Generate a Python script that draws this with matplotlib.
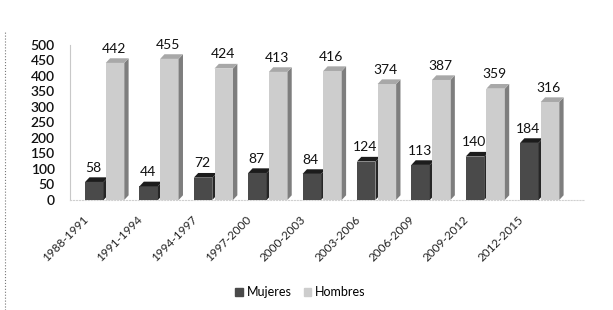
import matplotlib
matplotlib.use("Agg")
from matplotlib import pyplot as plt
from matplotlib.patches import Polygon
from matplotlib.lines import Line2D
import matplotlib.transforms as mtransforms
import numpy as np

periodos = ["1988-1991", "1991-1994", "1994-1997", "1997-2000", "2000-2003",
            "2003-2006", "2006-2009", "2009-2012", "2012-2015"]
mujeres = [58, 44, 72, 87, 84, 124, 113, 140, 184]
hombres = [442, 455, 424, 413, 416, 374, 387, 359, 316]
yticks = [0, 50, 100, 150, 200, 250, 300, 350, 400, 450, 500]

plt.rcParams['font.family'] = ['Lato', 'DejaVu Sans']

fig = plt.figure(figsize=(6.13, 3.10), dpi=100)
ax = fig.add_axes([0.114, 0.355, 0.84, 0.50])

x = np.arange(len(periodos))
w = 0.34
dx, dy = 0.08, 15  # profundidad falsa 3D

def barras3d(pos, vals, front, side, top):
    ax.bar(pos, vals, width=w, color=front, edgecolor='none', zorder=3)
    for p, v in zip(pos, vals):
        x0, x1 = p - w / 2, p + w / 2
        ax.add_patch(Polygon([(x1, 0), (x1 + dx, dy), (x1 + dx, v + dy), (x1, v)],
                             closed=True, color=side, lw=0, zorder=3))
        ax.add_patch(Polygon([(x0, v), (x0 + dx, v + dy), (x1 + dx, v + dy), (x1, v)],
                             closed=True, color=top, lw=0, zorder=3))
        ax.text(p - 0.02, v + dy + 12, str(v), ha='center', va='bottom',
                fontsize=10, color='#111111', zorder=4)

barras3d(x - 0.19, mujeres, '#4a4a4a', '#262626', '#1c1c1c')
barras3d(x + 0.19, hombres, '#cdcdcd', '#7e7e7e', '#a8a8a8')

ax.set_xlim(-0.64, 8.83)
ax.set_ylim(0, 500)
ax.set_yticks(yticks)
ax.tick_params(axis='y', length=0, pad=11, labelsize=10, labelcolor='#111111')
for lbl in ax.get_yticklabels():
    lbl.set_fontweight('semibold')
ax.set_xticks(x)
ax.set_xticklabels(periodos, rotation=45, ha='right', rotation_mode='anchor',
                   fontsize=8.5, color='#222222')
ax.tick_params(axis='x', length=0, pad=10)
offset = mtransforms.ScaledTranslation(-22 / 100, 0, fig.dpi_scale_trans)
for lbl in ax.get_xticklabels():
    lbl.set_transform(lbl.get_transform() + offset)

for s in ['top', 'right']:
    ax.spines[s].set_visible(False)
ax.spines['left'].set_color('#c8c8c8')
ax.spines['left'].set_linewidth(0.8)
ax.spines['bottom'].set_color('#d0d0d0')
ax.spines['bottom'].set_linestyle(':')

# borde punteado del recuadro
fig.add_artist(Line2D([0.008, 0.008], [0.0, 0.9], transform=fig.transFigure,
                      color='#777777', lw=0.8, ls=':'))

h1 = plt.Rectangle((0, 0), 1, 1, color='#4a4a4a')
h2 = plt.Rectangle((0, 0), 1, 1, color='#cdcdcd')
fig.legend([h1, h2], ['Mujeres', 'Hombres'], loc='center', bbox_to_anchor=(0.49, 0.058),
           ncol=2, frameon=False, fontsize=9, handlelength=0.6, handleheight=0.6,
           handletextpad=0.3, columnspacing=1.0)

fig.savefig("out.png", dpi=100)
